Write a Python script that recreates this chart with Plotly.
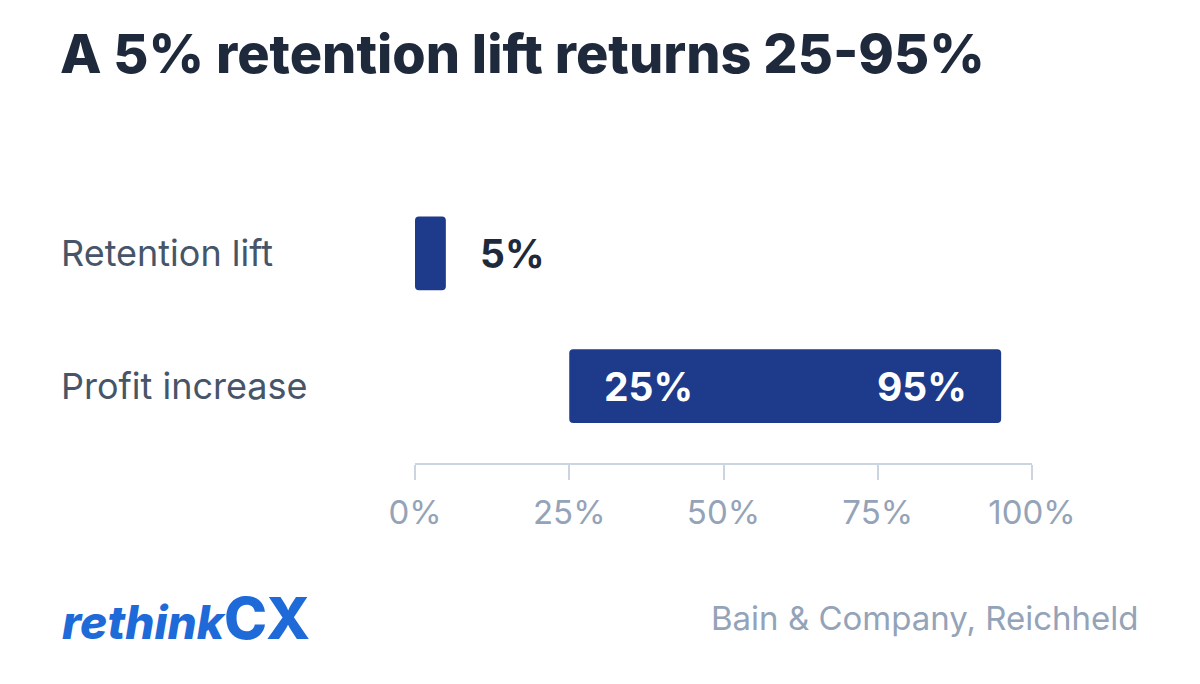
import plotly.graph_objects as go

# data
categories = ["Retention lift", "Profit increase"]
bar_start = [0, 25]
bar_end = [5, 95]
tick_vals = [0, 25, 50, 75, 100]
tick_text = ["0%", "25%", "50%", "75%", "100%"]

navy = "#1e3a8a"
dark = "#1e293b"
slate = "#475569"
muted = "#94a3b8"
axis_col = "#cbd5e1"
FONT = "Inter"

# plot area in pixels
L, R, T, B = 415, 1032, 187, 463
pw, ph = R - L, B - T


def px_x(px):
    return (px - L) / pw


def px_y(py):
    return (B - py) / ph


widths = [e - s for s, e in zip(bar_start, bar_end)]

fig = go.Figure(go.Bar(
    y=categories, x=widths, base=bar_start, orientation="h",
    marker=dict(color=navy, line=dict(width=0)),
    width=0.556, hoverinfo="skip",
))

# category labels, left aligned
for cat in categories:
    fig.add_annotation(x=px_x(59), xref="paper", y=cat, yref="y", text=cat, showarrow=False,
                       xanchor="left", font=dict(family=FONT, size=36, color=slate))

# value labels
fig.add_annotation(x=bar_end[0], y=categories[0], text="5%", showarrow=False,
                   xanchor="left", xshift=32,
                   font=dict(family=FONT, size=39, color=dark, weight=700))
fig.add_annotation(x=bar_start[1], y=categories[1], text="25%", showarrow=False,
                   xanchor="left", xshift=33,
                   font=dict(family=FONT, size=39, color="white", weight=700))
fig.add_annotation(x=bar_end[1], y=categories[1], text="95%", showarrow=False,
                   xanchor="right", xshift=-32,
                   font=dict(family=FONT, size=39, color="white", weight=700))

# footer: logo and source
fig.add_annotation(x=px_x(60), xref="paper", y=px_y(618), yref="paper",
                   text="<i>rethink</i><span style='font-size:58px'>CX</span>",
                   showarrow=False, xanchor="left", yanchor="middle",
                   font=dict(family=FONT, size=46, color="#1d6ad8", weight=800))
fig.add_annotation(x=px_x(1141), xref="paper", y=px_y(618), yref="paper",
                   text="Bain & Company, Reichheld", showarrow=False, xanchor="right", yanchor="middle",
                   font=dict(family=FONT, size=33, color=muted))

fig.update_layout(
    width=1200, height=684,
    paper_bgcolor="white", plot_bgcolor="white",
    margin=dict(l=L, r=1200 - R, t=T, b=684 - B),
    showlegend=False,
    barcornerradius=4,
    title=dict(text="A 5% retention lift returns 25-95%", x=60 / 1200, xanchor="left",
               y=1 - 54 / 684, yanchor="middle",
               font=dict(family=FONT, size=54, color=dark, weight=800)),
    xaxis=dict(range=[0, 100], tickvals=tick_vals, ticktext=tick_text,
               showgrid=False, zeroline=False, showline=True, linecolor=axis_col, linewidth=2,
               ticks="outside", ticklen=15, tickwidth=2, tickcolor=axis_col,
               ticklabelstandoff=4,
               tickfont=dict(family=FONT, size=33, color=muted), fixedrange=True),
    yaxis=dict(range=[1.579, -0.5], showticklabels=False, showgrid=False, zeroline=False,
               showline=False, fixedrange=True),
)

fig.write_html("out.html", config={"displayModeBar": False},
               post_script="document.body.style.margin='0px';")
